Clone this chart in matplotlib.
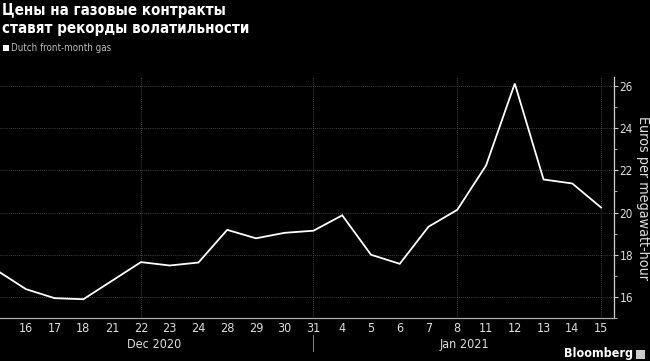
import matplotlib
matplotlib.use("Agg")
import matplotlib.pyplot as plt
import numpy as np
from matplotlib.ticker import MultipleLocator
from matplotlib.patches import Rectangle

# ---- data ----
day_labels = ["15", "16", "17", "18", "21", "22", "23", "24", "28", "29", "30", "31",
              "4", "5", "6", "7", "8", "11", "12", "13", "14", "15"]
prices = [17.25, 16.37, 15.94, 15.89, 16.77, 17.65, 17.49, 17.63, 19.18, 18.78, 19.04, 19.14,
          19.87, 18.00, 17.57, 19.33, 20.13, 22.23, 26.12, 21.57, 21.38, 20.24]
month_labels = ["Dec 2020", "Jan 2021"]
title = "Цены на газовые контракты\nставят рекорды волатильности"
series_name = "Dutch front-month gas"
y_label = "Euros per megawatt-hour"

plt.rcParams['font.family'] = ['DejaVu Sans']
plt.rcParams['font.stretch'] = 'condensed'

W, H = 650, 361
fig = plt.figure(figsize=(W / 100, H / 100), dpi=100, facecolor="black")
ax = fig.add_axes([0.0, 1 - 318 / H, 614 / W, (318 - 77) / H])
ax.set_facecolor("black")

x = np.arange(len(prices)) - 1  # first point (Dec 15) sits left of the first labelled tick
ax.plot(x, prices, color="white", lw=1.3, solid_joinstyle="miter", zorder=3)

ax.set_xlim(-0.9, 20.45)
ax.set_ylim(15.0, 26.43)

ax.yaxis.tick_right()
ax.yaxis.set_label_position("right")
ax.yaxis.set_major_locator(MultipleLocator(2))
ax.yaxis.set_minor_locator(MultipleLocator(1))
ax.tick_params(axis="y", which="major", colors="#cccccc", labelcolor="#dddddd",
               length=3, width=0.8, pad=1, labelsize=8.5)
ax.tick_params(axis="y", which="minor", colors="#cccccc", length=2, width=0.6)
ax.set_ylabel(y_label, color="#dddddd", fontsize=10.3, rotation=270, labelpad=12)

xt = np.arange(0, len(day_labels) - 1)
ax.set_xticks(xt)
ax.set_xticklabels(day_labels[1:], color="#dddddd", fontsize=9)
ax.tick_params(axis="x", length=0, pad=3)

for v in [16, 18, 20, 22, 24, 26]:
    ax.axhline(v, color="#555555", lw=0.6, ls=(0, (1, 1.5)), zorder=1)
for i in [4, 10, 15, 20]:
    ax.axvline(i, color="#555555", lw=0.6, ls=(0, (1, 1.5)), zorder=1)

for s in ["top", "left"]:
    ax.spines[s].set_visible(False)
ax.spines["right"].set_color("#cccccc")
ax.spines["bottom"].set_color("#aaaaaa")
ax.spines["right"].set_linewidth(0.9)
ax.spines["bottom"].set_linewidth(0.9)

trans = ax.get_xaxis_transform()
ax.text(4.45, -0.085, month_labels[0], transform=trans, ha="center", va="top",
        color="#dddddd", fontsize=9)
ax.text(15.25, -0.085, month_labels[1], transform=trans, ha="center", va="top",
        color="#dddddd", fontsize=9)
ax.plot([10, 10], [-0.07, -0.135], transform=trans, color="#888888", lw=0.7, clip_on=False)

fig.text(2 / W, 1 - 3 / H, title, ha="left", va="top", color="white",
         fontsize=10.8, fontweight="bold", linespacing=1.28)
fig.patches.append(Rectangle((3 / W, 1 - 51 / H), 6 / W, 6 / H, transform=fig.transFigure,
                             facecolor="white", edgecolor="none"))
fig.text(11 / W, 1 - 48 / H, series_name, ha="left", va="center", color="#bbbbbb", fontsize=7)

fig.text(633 / W, 1 - 354 / H, "Bloomberg", ha="right", va="center", color="white",
         fontsize=9, fontweight="bold")
fig.patches.append(Rectangle((636 / W, 1 - 359 / H), 9 / W, 9 / H, transform=fig.transFigure,
                             facecolor="#cccccc", edgecolor="none"))

fig.savefig("out.png", dpi=100, facecolor="black")
